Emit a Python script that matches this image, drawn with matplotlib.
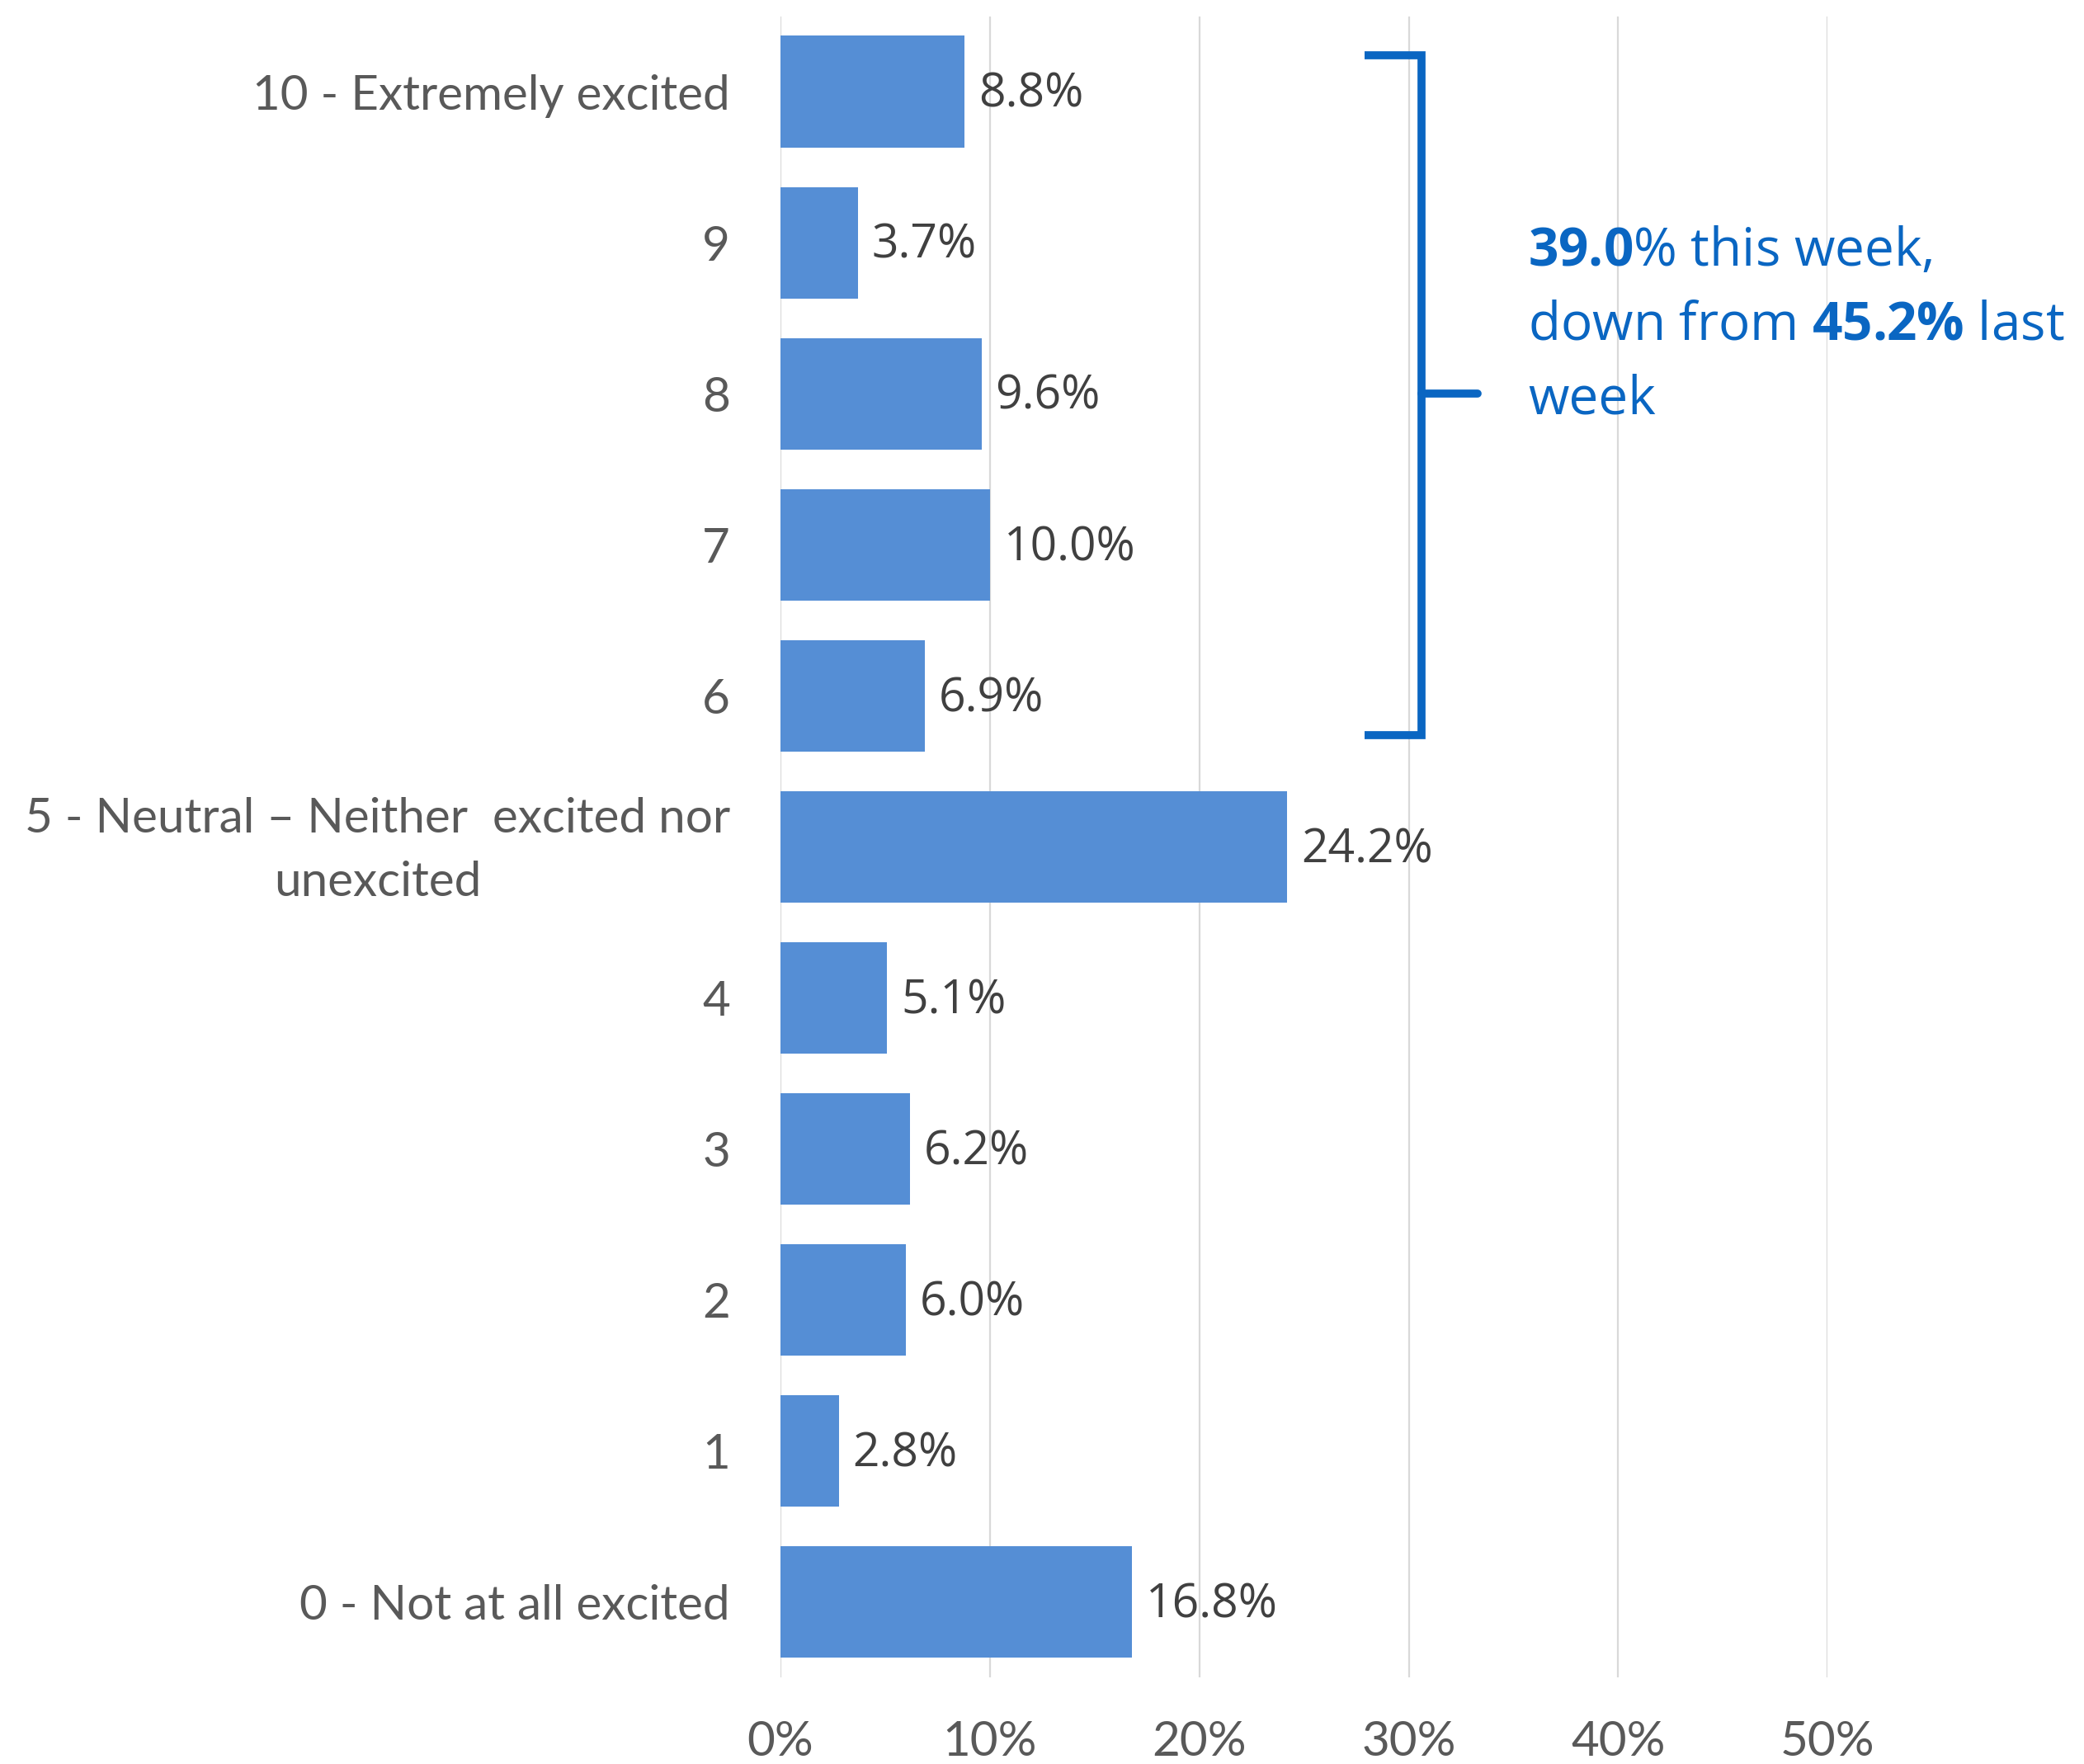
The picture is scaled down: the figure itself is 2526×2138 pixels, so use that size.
import numpy as np
from matplotlib import pyplot as plt
from matplotlib.transforms import ScaledTranslation

# excitement scale, top to bottom as shown
labels = ['10 - Extremely excited', '9', '8', '7', '6',
          '5 - Neutral \u2013 Neither  excited nor\nunexcited',
          '4', '3', '2', '1', '0 - Not at all excited']
scores = [10, 9, 8, 7, 6, 5, 4, 3, 2, 1, 0]
pct = [8.8, 3.7, 9.6, 10.0, 6.9, 24.2, 5.1, 6.2, 6.0, 2.8, 16.8]
x_ticks = [0, 10, 20, 30, 40, 50]

bar_color = '#558ED5'
label_color = '#404040'
tick_color = '#595959'
note_color = '#0A66C2'

plt.rcParams['mathtext.fontset'] = 'custom'
plt.rcParams['mathtext.rm'] = 'Open Sans'
plt.rcParams['mathtext.bf'] = 'Open Sans:bold'

fig = plt.figure(figsize=(25.26, 21.38), dpi=100)
ax = fig.add_axes([0.3745, 0.049, 0.5025, 0.9418])

ax.barh(scores, pct, height=0.74, color=bar_color, zorder=2)
for y, v in zip(scores, pct):
    ax.annotate('%.1f%%' % v, xy=(v, y), xytext=(12, -3), textcoords='offset points',
                ha='left', va='center', fontsize=41, color=label_color,
                family='Open Sans')

ax.set_xlim(0, 50)
ax.set_ylim(-0.5, 10.5)
ax.set_xticks(x_ticks)
ax.set_xticklabels(['%d%%' % t for t in x_ticks], family='Lato',
                   fontsize=42, color=tick_color)
ax.set_yticks(scores)
ax.set_yticklabels(labels, family='Lato', fontsize=42,
                   color=tick_color, multialignment='center', linespacing=1.55)
ax.tick_params(axis='both', length=0)
ax.tick_params(axis='x', pad=37)
ax.tick_params(axis='y', pad=44)
ax.grid(axis='x', color='#D9D9D9', linewidth=1.6, zorder=0)
for s in ax.spines.values():
    s.set_visible(False)

# nudge the two-line neutral label up a little
neutral = ax.get_yticklabels()[5]
neutral.set_transform(neutral.get_transform() + ScaledTranslation(0, 0.12, fig.dpi_scale_trans))

# bracket over scores 6-10
bx, arm, stub = 30.6, 27.9, 33.3
top, bot, mid = 10.24, 5.74, 8.0
ax.plot([arm, bx, bx, arm], [top, top, bot, bot], color=note_color, lw=7,
        solid_joinstyle='miter', solid_capstyle='butt', clip_on=False, zorder=3)
ax.plot([bx, stub], [mid, mid], color=note_color, lw=7,
        solid_capstyle='round', clip_on=False, zorder=3)

note = [r'$\mathbf{39.0}$% this week,',
        r'down from $\mathbf{45.2\%}$ last',
        'week']
for i, line in enumerate(note):
    ax.text(35.7, 8.94 - 0.49 * i, line, ha='left', va='center', fontsize=46,
            color=note_color, family='Open Sans', clip_on=False)

fig.savefig('out.png', dpi=100)
